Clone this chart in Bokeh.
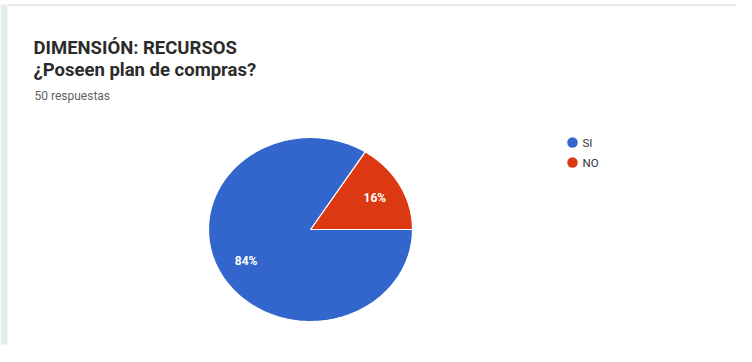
import numpy as np
from bokeh.plotting import figure
from bokeh.models import Range1d
from bokeh.core.properties import value
from bokeh.embed import file_html
from bokeh.resources import INLINE

# Data
categories = ["SI", "NO"]
percent = [84, 16]
colors = ["#3366CC", "#DC3912"]
title1 = "DIMENSIÓN: RECURSOS"
title2 = "¿Poseen plan de compras?"
subtitle = "50 respuestas"

W, H = 736, 346
p = figure(width=W, height=H, output_backend="svg", toolbar_location=None,
           x_range=Range1d(0, W), y_range=Range1d(H, 0), min_border=0)
p.axis.visible = False
p.grid.visible = False
p.outline_line_color = None
p.background_fill_color = "white"
p.border_fill_color = "white"

# card: left strip and top edge
p.quad(left=[0], right=[7], top=[4], bottom=[H - 2], fill_color="#e3efe6", line_color=None)
p.segment(x0=[7], y0=[4.5], x1=[W], y1=[4.5], line_color="#e2e4e3", line_width=1.5)

# titles
p.text(x=[33], y=[47], text=[title1], text_font=value("Roboto"), text_font_style="bold",
       text_font_size="18.5px", text_color="#2b2b2b", text_baseline="alphabetic")
p.text(x=[33], y=[69], text=[title2], text_font=value("Roboto"), text_font_style="bold",
       text_font_size="18.5px", text_color="#2b2b2b", text_baseline="alphabetic")
p.text(x=[34], y=[95], text=[subtitle], text_font=value("Roboto"),
       text_font_size="12px", text_color="#5f6368", text_baseline="alphabetic")

# pie (slightly elliptical as in reference)
cx, cy, rx, ry = 310, 229, 102, 92
fr = np.array(percent, dtype=float) / sum(percent)
# NO slice starts at 3 o'clock counterclockwise, SI follows
order = [1, 0]
start = 0.0
xs, ys, fills, lx, ly, lt = [], [], [], [], [], []
for i in order:
    end = start + fr[i] * 2 * np.pi
    t = np.linspace(start, end, 200)
    xs.append(np.concatenate([[cx], cx + rx * np.cos(t)]).tolist())
    ys.append(np.concatenate([[cy], cy - ry * np.sin(t)]).tolist())
    fills.append(colors[i])
    mid = (start + end) / 2
    lx.append(cx + 0.72 * rx * np.cos(mid))
    ly.append(cy - 0.72 * ry * np.sin(mid))
    lt.append(f"{percent[i]}%")
    start = end
p.patches(xs=xs, ys=ys, fill_color=fills, line_color="white", line_width=1.2)
p.text(x=lx, y=ly, text=lt, text_font=value("Roboto"), text_font_style="bold",
       text_font_size="12px", text_color="white", text_align="center", text_baseline="middle")

# legend
leg_y = [142 + 20 * k for k in range(len(categories))]
p.scatter(x=[572] * len(categories), y=leg_y, size=10.5, fill_color=colors, line_color=None)
p.text(x=[582] * len(categories), y=leg_y, text=categories, text_font=value("Roboto"),
       text_font_size="11.5px", text_color="#333333", text_baseline="middle")

open("out.html", "w").write(file_html(p, INLINE))
